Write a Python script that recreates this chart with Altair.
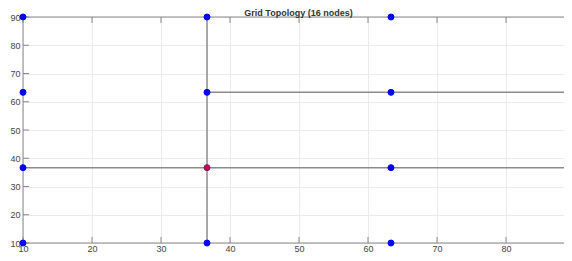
import altair as alt
import pandas as pd

# Node coordinates
node_x = [10, 36.67, 63.33, 90, 10, 36.67, 63.33, 90, 10, 36.67, 63.33, 90, 10, 36.67, 63.33, 90]
node_y = [10, 10, 10, 10, 36.67, 36.67, 36.67, 36.67, 63.33, 63.33, 63.33, 63.33, 90, 90, 90, 90]
node_kind = ["normal"] * 16
node_kind[5] = "source"

# Edges (segments)
edge_x1 = [36.67, 36.67, 36.67, 36.67, 63.33, 10, 36.67, 63.33]
edge_y1 = [10, 36.67, 63.33, 63.33, 63.33, 36.67, 36.67, 36.67]
edge_x2 = [36.67, 36.67, 36.67, 63.33, 90, 36.67, 63.33, 90]
edge_y2 = [36.67, 63.33, 90, 63.33, 63.33, 36.67, 36.67, 36.67]

tick_values = [10, 20, 30, 40, 50, 60, 70, 80, 90]
axis_limits = [10, 90]

XR = 552          # pixel span of the x scale (plot runs past the right page edge)
W, H = 541, 226   # visible view size

nodes = pd.DataFrame({"x": node_x, "y": node_y, "kind": node_kind})
edges = pd.DataFrame({"x": edge_x1, "y": edge_y1, "x2": edge_x2, "y2": edge_y2})
ticks = pd.DataFrame({"t": tick_values})
box = pd.DataFrame({"a": [axis_limits[0]], "b": [axis_limits[1]]})

xs = alt.Scale(domain=axis_limits, nice=False, zero=False, range=[0, XR])
ys = alt.Scale(domain=axis_limits, nice=False, zero=False)

x_axis = alt.Axis(values=tick_values, tickCount=9, grid=True, gridColor="#ebebeb", gridWidth=1,
                  domain=False, ticks=False, labelFontSize=9, labelColor="#444",
                  labelPadding=1, title=None, labelFlush=False, labelOverlap=False)
y_axis = alt.Axis(values=tick_values, tickCount=9, grid=True, gridColor="#ebebeb", gridWidth=1,
                  domain=False, ticks=False, labelFontSize=9, labelColor="#444",
                  labelPadding=3, title=None, labelOverlap=False, labelFlush=False)

base_grid = alt.Chart(nodes).mark_point(opacity=0).encode(
    x=alt.X("x:Q", scale=xs, axis=x_axis),
    y=alt.Y("y:Q", scale=ys, axis=y_axis),
)

frame_col = "#888888"
frame_top = alt.Chart(box).mark_rule(color=frame_col).encode(
    x=alt.X("a:Q", scale=xs, axis=x_axis), x2="b:Q", y=alt.value(0))
frame_bottom = alt.Chart(box).mark_rule(color=frame_col).encode(
    x=alt.X("a:Q", scale=xs, axis=x_axis), x2="b:Q", y=alt.value(H))
frame_left = alt.Chart(box).mark_rule(color=frame_col).encode(
    x=alt.X("a:Q", scale=xs, axis=x_axis), y=alt.value(0), y2=alt.value(H))

edge_layer = alt.Chart(edges).mark_rule(color="#8c8c8c", strokeWidth=1.5).encode(
    x=alt.X("x:Q", scale=xs, axis=x_axis), y=alt.Y("y:Q", scale=ys, axis=y_axis),
    x2="x2:Q", y2="y2:Q",
)

bottom_ticks = alt.Chart(ticks).mark_rule(color=frame_col).encode(
    x=alt.X("t:Q", scale=xs, axis=x_axis), y=alt.value(H), y2=alt.value(H - 6))
top_ticks = alt.Chart(ticks).mark_rule(color=frame_col).encode(
    x=alt.X("t:Q", scale=xs, axis=x_axis), y=alt.value(0), y2=alt.value(6))
left_ticks = alt.Chart(ticks).mark_rule(color=frame_col).encode(
    y=alt.Y("t:Q", scale=ys, axis=y_axis), x=alt.value(0), x2=alt.value(6))

points = alt.Chart(nodes).mark_point(filled=True, size=36, strokeWidth=1, opacity=1).encode(
    x=alt.X("x:Q", scale=xs, axis=x_axis),
    y=alt.Y("y:Q", scale=ys, axis=y_axis),
    fill=alt.Fill("kind:N", scale=alt.Scale(domain=["normal", "source"], range=["#0000ff", "#d0102a"]), legend=None),
    stroke=alt.Stroke("kind:N", scale=alt.Scale(domain=["normal", "source"], range=["#0000ff", "#6a1a8a"]), legend=None),
)

chart = alt.layer(base_grid, frame_top, frame_bottom, frame_left, edge_layer,
                  bottom_ticks, top_ticks, left_ticks, points).properties(
    width=W, height=H,
    title=alt.TitleParams("Grid Topology (16 nodes)", fontSize=9, fontWeight="bold", color="#333",
                          font="Liberation Sans", offset=-6, anchor="middle", dx=5),
    autosize=alt.AutoSizeParams(type="none"),
    padding={"left": 15, "top": 9, "right": 0, "bottom": 10},
).configure_view(stroke=None).configure(font="Liberation Sans")

chart.save("out.html", embed_options={"renderer": "svg", "actions": False})
